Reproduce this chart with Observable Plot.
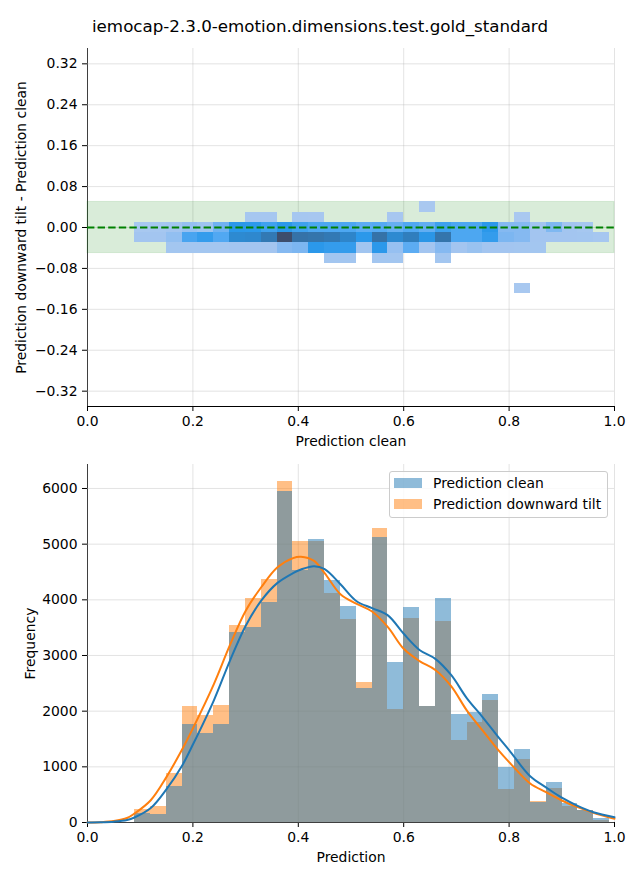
<!DOCTYPE html>
<html>
<head>
<meta charset="utf-8">
<script src="https://cdn.jsdelivr.net/npm/d3@7"></script>
<script src="https://cdn.jsdelivr.net/npm/@observablehq/plot@0.6"></script>
<style>
  body { margin: 0; background: #fff; }
  #wrap { position: relative; width: 640px; height: 880px; font-family: "DejaVu Sans", sans-serif; color: #000; background: #fff; overflow: hidden; }
  #top { position: absolute; left: 0; top: 0; }
  #bottom { position: absolute; left: 0; top: 450px; }
  #title { position: absolute; left: 0; top: 15px; width: 640px; text-align: center; font-size: 16.7px; line-height: 22px; }
  #legend { position: absolute; left: 389px; top: 471px; width: 217px; height: 45px; border: 1px solid #cccccc; border-radius: 3px; background: rgba(255,255,255,0.8); font-size: 13.9px; }
  .patch { position: absolute; left: 4px; width: 28px; height: 10px; }
  .ltext { position: absolute; left: 43px; line-height: 16px; white-space: nowrap; }
</style>
</head>
<body>
<div id="wrap">
  <div id="top"></div>
  <div id="bottom"></div>
  <div id="title"></div>
  <div id="legend"></div>
</div>
<script>
// ---------------- data ----------------
const chartTitle = "iemocap-2.3.0-emotion.dimensions.test.gold_standard";
const seriesNames = ["Prediction clean", "Prediction downward tilt"];
const seriesColors = ["#1f77b4", "#ff7f0e"];

const xTicks = [0, 0.2, 0.4, 0.6, 0.8, 1.0];
const diffTicks = [-0.32, -0.24, -0.16, -0.08, 0, 0.08, 0.16, 0.24, 0.32];
const freqTicks = [0, 1000, 2000, 3000, 4000, 5000, 6000];

// histogram bin edges (30 bins)
const binEdges = [0.0892, 0.1193, 0.1493, 0.1794, 0.2094, 0.2395, 0.2695, 0.2996, 0.3296, 0.3597,
  0.3897, 0.4198, 0.4498, 0.4799, 0.5099, 0.5400, 0.5700, 0.6001, 0.6301, 0.6602,
  0.6902, 0.7203, 0.7503, 0.7804, 0.8104, 0.8405, 0.8705, 0.9006, 0.9306, 0.9607, 0.9907];

const countClean = [170, 150, 650, 1760, 1600, 1760, 3410, 3500, 3950, 5945,
  4530, 5080, 4345, 3880, 2400, 5120, 2875, 3860, 2075, 4020,
  1940, 1975, 2300, 990, 1310, 360, 720, 335, 220, 70];
const countTilt = [230, 285, 875, 2080, 1920, 2100, 3540, 4020, 4365, 6125,
  5050, 5050, 4110, 3645, 2510, 5280, 2030, 3665, 2085, 3610,
  1470, 1795, 2190, 590, 1130, 375, 610, 285, 210, 35];

// KDE curves
const kdeX = [0, 0.025, 0.05, 0.075, 0.089, 0.12, 0.15, 0.18, 0.20, 0.24, 0.27, 0.30, 0.33, 0.36,
  0.39, 0.405, 0.43, 0.45, 0.48, 0.51, 0.54, 0.57, 0.60, 0.63, 0.66, 0.69, 0.72, 0.75,
  0.78, 0.80, 0.84, 0.87, 0.90, 0.93, 0.96, 1.0];
const kdeClean = [0, 3, 15, 45, 90, 260, 600, 1030, 1400, 2200, 2900, 3530, 3990, 4300,
  4480, 4545, 4605, 4550, 4280, 3980, 3850, 3720, 3390, 3100, 2940, 2650, 2230, 1890,
  1530, 1300, 830, 630, 445, 300, 185, 95];
const kdeTilt = [0, 5, 25, 80, 160, 400, 820, 1320, 1690, 2490, 3180, 3800, 4230, 4580,
  4750, 4775, 4700, 4480, 4100, 3930, 3790, 3510, 3120, 2900, 2740, 2450, 2010, 1650,
  1295, 1085, 700, 545, 395, 275, 174, 66];

// 2D histogram: difference (tilt - clean) rows, 30 columns sharing binEdges
const heatRowCenters = [0.04, 0.02, 0, -0.02, -0.04, -0.06, -0.12];
const heatRowHeight = 0.02;
const heatP04 = [0,0,0,0,0,0,0,0,0,0, 0,0,0,0,0,0,0,0,20,0, 0,0,0,0,0,0,0,0,0,0];
const heatP02 = [0,0,0,0,0,0,0,60,60,0, 70,50,0,0,0,0,45,0,0,0, 0,0,0,0,25,0,0,0,0,0];
const heat000 = [30,70,110,290,180,790,1620,1600,1370,1620, 1370,1190,1190,1190,1010,1080,900,1150,950,1370, 1190,1190,1620,540,540,110,610,110,70,0];
const heatM02 = [110,110,360,1260,1510,1150,1980,2020,2410,3600, 2590,2520,2410,2090,1620,2590,1980,2270,1690,2520, 1190,1190,1510,650,540,110,110,110,100,70];
const heatM04 = [0,0,100,100,100,100,110,110,110,540, 650,1620,1510,1510,140,1620,290,1010,110,540, 110,250,110,110,100,100,0,0,0,0];
const heatM06 = [0,0,0,0,0,0,0,0,0,0, 0,0,100,100,0,100,100,0,0,100, 0,0,0,0,0,0,0,0,0,0];
const heatM12 = [0,0,0,0,0,0,0,0,0,0, 0,0,0,0,0,0,0,0,0,0, 0,0,0,0,30,0,0,0,0,0];

const bandLimits = [-0.05, 0.05];
const refLine = [0];

// colour map stops (fraction of count range) approximating the seaborn ramp
const colorStopT = [0, 0.15, 0.3, 0.45, 0.6, 0.75, 1];
const colorStopColors = ["#a9c8f0", "#84b9f1", "#55aaf3", "#2a98ea", "#2f82c4", "#366ea0", "#3d4d6c"];

// ---------------- build tables ----------------
const heatRows = [heatP04, heatP02, heat000, heatM02, heatM04, heatM06, heatM12];
const cells = [];
heatRows.forEach((row, r) => row.forEach((c, k) => {
  if (c > 0) cells.push({x1: binEdges[k], x2: binEdges[k + 1],
    y1: heatRowCenters[r] - heatRowHeight / 2, y2: heatRowCenters[r] + heatRowHeight / 2, count: c});
}));
const cMin = d3.min(cells, d => d.count), cMax = d3.max(cells, d => d.count);
const colorDomain = colorStopT.map(t => cMin + t * (cMax - cMin));

const histClean = countClean.map((c, k) => ({x1: binEdges[k], x2: binEdges[k + 1], count: c}));
const histTilt = countTilt.map((c, k) => ({x1: binEdges[k], x2: binEdges[k + 1], count: c}));
const kdeCleanData = kdeX.map((x, i) => ({x, y: kdeClean[i]}));
const kdeTiltData = kdeX.map((x, i) => ({x, y: kdeTilt[i]}));

const fontStyle = {fontFamily: "DejaVu Sans, sans-serif", fontSize: "13.9px", color: "#000", background: "transparent", overflow: "visible"};
const gridStyle = {stroke: "#b0b0b0", strokeOpacity: 0.45, strokeWidth: 0.8};
const yLabelStyle = {text: d => d, frameAnchor: "left", textAnchor: "middle", lineAnchor: "middle", rotate: -90, fontSize: 13.9};
const xLabelStyle = {text: d => d, frameAnchor: "bottom", textAnchor: "middle", lineAnchor: "middle", dy: 35, fontSize: 13.9};

// ---------------- top panel ----------------
const topPlot = Plot.plot({
  width: 640, height: 450,
  marginTop: 48, marginBottom: 44, marginLeft: 87, marginRight: 26,
  style: fontStyle,
  x: {domain: [0, 1], ticks: xTicks, tickFormat: d3.format(".1f"), tickSize: 5, tickPadding: 5, line: true, label: null},
  y: {domain: [-0.35, 0.35], ticks: diffTicks, tickFormat: d3.format(".2f"), tickSize: 5, tickPadding: 5, line: true, label: null},
  color: {type: "linear", domain: colorDomain, range: colorStopColors, interpolate: "rgb"},
  marks: [
    Plot.ruleX(xTicks, gridStyle),
    Plot.ruleY(diffTicks, gridStyle),
    Plot.rect([bandLimits], {x1: () => 0, x2: () => 1, y1: d => d[0], y2: d => d[1], fill: "green", fillOpacity: 0.15, stroke: "green", strokeOpacity: 0.12, inset: 0}),
    Plot.rect(cells, {x1: "x1", x2: "x2", y1: "y1", y2: "y2", fill: "count", inset: 0, shapeRendering: "crispEdges"}),
    Plot.ruleY(refLine, {stroke: "green", strokeWidth: 2, strokeDasharray: "7.4,3.2"}),
    Plot.text(["Prediction downward tilt - Prediction clean"], {...yLabelStyle, dx: -66}),
    Plot.text(["Prediction clean"], xLabelStyle)
  ]
});
document.getElementById("top").appendChild(topPlot);

// ---------------- bottom panel ----------------
const bottomPlot = Plot.plot({
  width: 640, height: 430,
  marginTop: 14, marginBottom: 58, marginLeft: 87, marginRight: 26,
  style: fontStyle,
  x: {domain: [0, 1], ticks: xTicks, tickFormat: d3.format(".1f"), tickSize: 5, tickPadding: 5, line: true, label: null},
  y: {domain: [0, 6431], ticks: freqTicks, tickFormat: d3.format("d"), tickSize: 5, tickPadding: 5, line: true, label: null},
  marks: [
    Plot.ruleX(xTicks, gridStyle),
    Plot.ruleY(freqTicks, gridStyle),
    Plot.rect(histTilt, {x1: "x1", x2: "x2", y1: () => 0, y2: "count", fill: seriesColors[1], fillOpacity: 0.5, inset: 0, shapeRendering: "crispEdges"}),
    Plot.rect(histClean, {x1: "x1", x2: "x2", y1: () => 0, y2: "count", fill: seriesColors[0], fillOpacity: 0.5, inset: 0, shapeRendering: "crispEdges"}),
    Plot.line(kdeTiltData, {x: "x", y: "y", stroke: seriesColors[1], strokeWidth: 2, curve: "catmull-rom"}),
    Plot.line(kdeCleanData, {x: "x", y: "y", stroke: seriesColors[0], strokeWidth: 2, curve: "catmull-rom"}),
    Plot.text(["Frequency"], {...yLabelStyle, dx: -57}),
    Plot.text(["Prediction"], xLabelStyle)
  ]
});
document.getElementById("bottom").appendChild(bottomPlot);

// ---------------- title & legend ----------------
document.getElementById("title").textContent = chartTitle;
const legend = document.getElementById("legend");
seriesNames.forEach((name, i) => {
  const p = document.createElement("div");
  p.className = "patch";
  p.style.top = (6 + 21 * i) + "px";
  p.style.background = seriesColors[i];
  p.style.opacity = 0.5;
  legend.appendChild(p);
  const t = document.createElement("div");
  t.className = "ltext";
  t.style.top = (3 + 21 * i) + "px";
  t.textContent = name;
  legend.appendChild(t);
});
</script>
</body>
</html>
